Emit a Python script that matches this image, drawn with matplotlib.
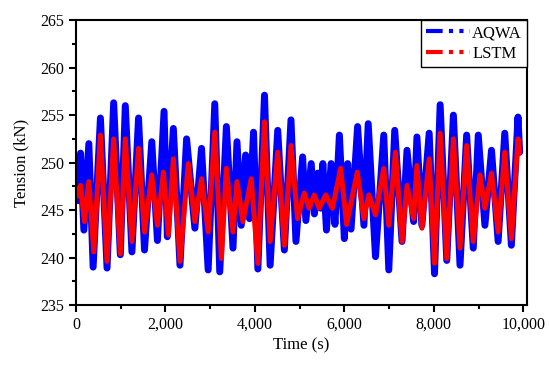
import matplotlib
matplotlib.use("Agg")
import matplotlib.pyplot as plt
from matplotlib.lines import Line2D
from matplotlib.ticker import MultipleLocator, FuncFormatter

# --- data (peaks / troughs of each wave) ---
aqwa_t = [0, 30, 60, 104, 178, 289, 385, 548, 696, 844, 993, 1104, 1252, 1400,
          1533, 1696, 1822, 1970, 2044, 2178, 2326, 2474, 2659, 2808, 2956, 3104,
          3215, 3363, 3511, 3600, 3696, 3793, 3881, 3970, 4067, 4215, 4341, 4511,
          4659, 4807, 4918, 5067, 5140, 5259, 5330, 5407, 5470, 5519, 5600, 5704,
          5790, 5889, 6000, 6074, 6150, 6296, 6437, 6533, 6696, 6881, 6993, 7126,
          7289, 7400, 7548, 7622, 7733, 7896, 8015, 8141, 8289, 8437, 8585, 8733,
          8881, 8993, 9141, 9289, 9437, 9585, 9733, 9881, 9918]
aqwa_v = [247.5, 250.5, 246.0, 251.0, 242.9, 252.0, 239.0, 254.7, 238.9, 256.3,
          240.3, 256.0, 240.6, 254.7, 240.8, 252.2, 241.8, 255.4, 242.2, 253.6,
          239.2, 252.5, 243.1, 251.5, 238.7, 256.2, 238.5, 253.8, 241.0, 252.2,
          243.4, 250.8, 244.1, 253.2, 238.8, 257.1, 239.2, 253.4, 240.8, 254.5,
          241.7, 250.6, 243.9, 249.9, 244.6, 248.9, 245.2, 249.9, 242.9, 249.9,
          243.5, 252.9, 242.0, 249.9, 243.0, 253.8, 243.4, 254.1, 240.1, 252.9,
          238.7, 253.4, 241.7, 251.3, 243.8, 252.7, 243.4, 253.1, 238.3, 256.1,
          239.7, 255.0, 239.2, 252.9, 241.0, 252.9, 243.4, 251.3, 241.7, 253.1,
          241.3, 254.8, 251.1]

lstm_t = [0, 60, 104, 190, 289, 400, 548, 696, 844, 993, 1104, 1252, 1400, 1533,
          1696, 1822, 1956, 2067, 2178, 2326, 2511, 2659, 2808, 2956, 3104, 3252,
          3363, 3511, 3600, 3733, 3918, 4067, 4215, 4341, 4511, 4659, 4807, 4955,
          5104, 5215, 5326, 5437, 5585, 5733, 5918, 6050, 6289, 6437, 6548, 6696,
          6881, 6993, 7141, 7289, 7400, 7548, 7622, 7733, 7896, 8015, 8141, 8289,
          8437, 8585, 8733, 8881, 9030, 9141, 9289, 9437, 9585, 9733, 9881, 9918]
lstm_v = [247.3, 246.5, 247.6, 243.8, 248.0, 240.6, 252.9, 239.6, 252.5, 240.4,
          252.5, 241.7, 251.5, 242.7, 248.7, 243.4, 249.0, 242.4, 250.4, 239.6,
          249.9, 243.8, 248.3, 242.7, 253.2, 239.9, 249.4, 242.7, 248.0, 243.8,
          248.3, 239.4, 254.3, 241.7, 251.1, 241.3, 251.8, 244.1, 246.8, 245.2,
          246.6, 245.2, 246.6, 245.2, 249.4, 243.5, 249.0, 244.1, 246.6, 244.5,
          249.4, 243.4, 251.1, 241.7, 247.6, 244.1, 249.7, 243.1, 250.4, 239.4,
          253.1, 239.9, 252.5, 241.0, 251.8, 241.7, 248.7, 245.2, 248.9, 242.7,
          251.1, 242.0, 252.5, 251.0]

plt.rcParams['font.family'] = ['Liberation Serif', 'DejaVu Serif']
plt.rcParams['font.size'] = 12

fig = plt.figure(figsize=(5.5, 3.73), dpi=100)
ax = fig.add_axes([0.138, 0.182, 0.82, 0.764])

# thick strokes so the waves read as solid blobs like the source
ax.plot(aqwa_t, aqwa_v, color='#0000ff', linewidth=5.0,
        solid_joinstyle='round', solid_capstyle='round')
ax.plot(lstm_t, lstm_v, color='#ff0000', linewidth=3.6,
        solid_joinstyle='round', solid_capstyle='round')

ax.set_xlim(0, 10080)
ax.set_ylim(235, 265)
ax.xaxis.set_major_locator(MultipleLocator(2000))
ax.xaxis.set_minor_locator(MultipleLocator(1000))
ax.yaxis.set_major_locator(MultipleLocator(5))
ax.yaxis.set_minor_locator(MultipleLocator(2.5))
ax.xaxis.set_major_formatter(FuncFormatter(lambda v, p: f"{int(v):,}"))
ax.tick_params(which='major', direction='out', length=5, width=1.5, labelsize=11.5)
ax.tick_params(which='minor', direction='out', length=3, width=1.5)
ax.tick_params(top=False, right=False)
for s in ax.spines.values():
    s.set_linewidth(1.5)

ax.set_xlabel("Time (s)", fontsize=12, labelpad=3)
ax.set_ylabel("Tension (kN)", fontsize=12, labelpad=8)

dash = (0, (4, 1.5, 1, 1.5, 1, 1.5))
handles = [Line2D([], [], color='#0000ff', linewidth=3, linestyle=dash),
           Line2D([], [], color='#ff0000', linewidth=3, linestyle=dash)]
leg = ax.legend(handles, ["AQWA", "LSTM"], loc='upper right', borderaxespad=0,
                fancybox=False, edgecolor='black', framealpha=1,
                handlelength=2.6, handletextpad=0.15, borderpad=0.3,
                labelspacing=0.3, fontsize=12)
leg.get_frame().set_linewidth(1.0)

fig.savefig("out.png", dpi=100)
